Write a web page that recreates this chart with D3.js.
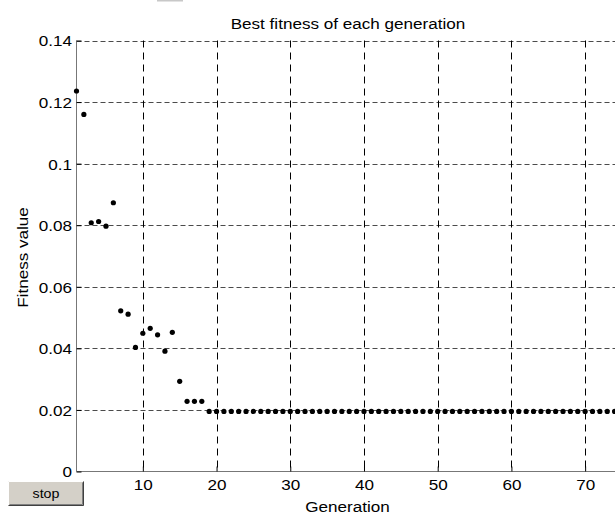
<!DOCTYPE html>
<html><head><meta charset="utf-8">
<script src="https://cdn.jsdelivr.net/npm/d3@7"></script>
<style>body{margin:0;background:#fff;overflow:hidden}svg{display:block}</style>
</head><body>
<svg id="c" width="615" height="515"></svg>
<script>
const generations = d3.range(1, 75);
const bestFitness = [
  0.1236, 0.1160, 0.0808, 0.0812, 0.0797, 0.0873, 0.0522, 0.0511, 0.0403, 0.0449,
  0.0465, 0.0444, 0.0391, 0.0452, 0.0293, 0.0228, 0.0228, 0.0228, 0.0195, 0.0195,
  0.0195, 0.0195, 0.0195, 0.0195, 0.0195, 0.0195, 0.0195, 0.0195, 0.0195, 0.0195,
  0.0195, 0.0195, 0.0195, 0.0195, 0.0195, 0.0195, 0.0195, 0.0195, 0.0195, 0.0195,
  0.0195, 0.0195, 0.0195, 0.0195, 0.0195, 0.0195, 0.0195, 0.0195, 0.0195, 0.0195,
  0.0195, 0.0195, 0.0195, 0.0195, 0.0195, 0.0195, 0.0195, 0.0195, 0.0195, 0.0195,
  0.0195, 0.0195, 0.0195, 0.0195, 0.0195, 0.0195, 0.0195, 0.0195, 0.0195, 0.0195,
  0.0195, 0.0195, 0.0195, 0.0195
];
const xTicks = [10, 20, 30, 40, 50, 60, 70];
const yTicks = [0, 0.02, 0.04, 0.06, 0.08, 0.1, 0.12, 0.14];
const titleText = "Best fitness of each generation";
const xLabel = "Generation";
const yLabel = "Fitness value";
const buttonLabel = "stop";

const svg = d3.select("#c");
const font = "Liberation Sans, Arial, sans-serif";
const FS = 15, SX = 1.14;
const pL = 76.5, pB = 471.5, pT = 40.5, pR = 618.3;
const x = d3.scaleLinear().domain([1, 74.5]).range([pL, pR]);
const y = d3.scaleLinear().domain([0, 0.14]).range([pB, pT]);

// faint toolbar remnant at top
svg.append("rect").attr("x",157).attr("y",0).attr("width",26).attr("height",1.5).attr("fill","#c8c8c8");

// grid
const grid = svg.append("g");
grid.selectAll("line.h").data(yTicks.filter(d=>d>0)).join("line")
  .attr("x1", pL).attr("x2", 615).attr("y1", d=>Math.round(y(d))+0.5).attr("y2", d=>Math.round(y(d))+0.5)
  .attr("stroke","#000").attr("stroke-width",1).attr("stroke-dasharray","5,3").attr("opacity",0.7);
grid.selectAll("line.v").data(xTicks).join("line")
  .attr("x1", d=>Math.round(x(d))+0.5).attr("x2", d=>Math.round(x(d))+0.5).attr("y1", pT).attr("y2", pB)
  .attr("stroke","#000").attr("stroke-width",1).attr("stroke-dasharray","7,5");

// axes
const xAxis = d3.axisBottom(x).tickValues(xTicks).tickSize(-5).tickPadding(0).tickFormat(d3.format("d"));
const gx = svg.append("g").attr("transform",`translate(0,${pB})`).call(xAxis);
gx.select(".domain").attr("stroke","#777").attr("d",`M${pL},0H615`);
gx.selectAll(".tick line").attr("stroke","#000");
gx.selectAll("text").attr("font-family",font).attr("font-size",FS).attr("fill","#000")
  .attr("y",0).attr("dy",0).attr("transform",`translate(0,18.5) scale(${SX},1)`);

const yAxis = d3.axisLeft(y).tickValues(yTicks).tickSize(-5).tickPadding(0).tickFormat(d=>d===0?"0":String(+d.toFixed(2)));
const gy = svg.append("g").attr("transform",`translate(${pL},0)`).call(yAxis);
gy.select(".domain").attr("stroke","#777").attr("d",`M0,${pT}V${pB}`);
gy.selectAll(".tick line").attr("stroke","#000");
gy.selectAll("text").attr("font-family",font).attr("font-size",FS).attr("fill","#000")
  .attr("x",0).attr("dy","0.36em").attr("transform",`translate(-4.5,0) scale(${SX},1)`);

// points
svg.append("g").selectAll("circle").data(generations).join("circle")
  .attr("cx", (g)=>x(g)).attr("cy", (g,i)=>y(bestFitness[i])).attr("r",2.6).attr("fill","#000");

// labels
svg.append("text").attr("transform",`translate(348,29) scale(${SX},1)`).attr("text-anchor","middle")
  .attr("font-family",font).attr("font-size",FS).text(titleText);
svg.append("text").attr("transform",`translate(347.5,512) scale(${SX},1)`).attr("text-anchor","middle")
  .attr("font-family",font).attr("font-size",FS).text(xLabel);
svg.append("text").attr("transform",`translate(28,257.5) rotate(-90) scale(${SX},1)`).attr("text-anchor","middle")
  .attr("font-family",font).attr("font-size",FS).text(yLabel);

// stop button
const b = svg.append("g").attr("transform","translate(8,481)");
b.append("rect").attr("width",76).attr("height",25).attr("fill","#d4d0c8");
b.append("path").attr("d","M0.5,24.5V0.5H75.5").attr("stroke","#fff").attr("fill","none");
b.append("path").attr("d","M0.5,24.5H75.5V0.5").attr("stroke","#404040").attr("fill","none");
b.append("path").attr("d","M1.5,23.5H74.5V1.5").attr("stroke","#808080").attr("fill","none");
b.append("text").attr("transform",`translate(38,16.5) scale(${SX},1)`).attr("text-anchor","middle")
  .attr("font-family",font).attr("font-size",12.5).text(buttonLabel);
</script>
</body></html>
